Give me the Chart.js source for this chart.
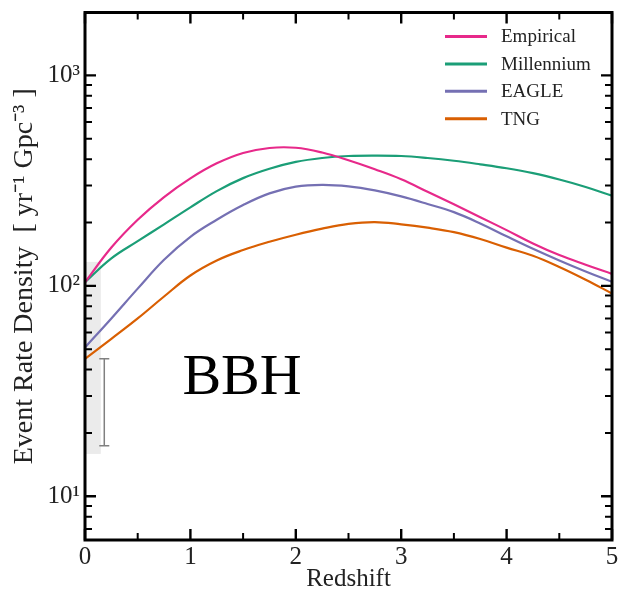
<!DOCTYPE html>
<html>
<head>
<meta charset="utf-8">
<script src="https://cdn.jsdelivr.net/npm/chart.js@4.4.1/dist/chart.umd.min.js"></script>
<style>
html, body { margin: 0; padding: 0; background: #fff; }
#caixa { width: 620px; height: 593px; }
</style>
</head>
<body>
<div id="caixa"><canvas id="taxa"></canvas></div>
<script>
// redshift grid and rates (yr^-1 Gpc^-3)
const redshift   = [0, 0.25, 0.5, 0.75, 1, 1.25, 1.5, 1.75, 2, 2.25, 2.5, 2.75, 3, 3.25, 3.5, 3.75, 4, 4.25, 4.5, 4.75, 5];
const empirical  = [104, 152, 206, 264, 324, 382, 428, 452, 453, 430, 395, 358, 321, 280, 244, 212, 184, 159, 140, 126, 114];
const millennium = [104, 135, 163, 196, 236, 282, 325, 360, 388, 405, 414, 416, 414, 405, 393, 378, 362, 343, 320, 295, 268];
const eagle      = [51, 70, 97, 133, 171, 206, 242, 275, 296, 302, 297, 284, 266, 245, 224, 198, 172, 150, 132, 117, 104.5];
const tng        = [45, 56, 70, 89, 112, 132, 148, 162, 175, 187, 197, 201, 196, 189, 180, 167, 152, 139, 123, 107, 92];

const nomes = ['Empirical', 'Millennium', 'EAGLE', 'TNG'];
const cores = ['#e7298a', '#1b9e77', '#7570b3', '#d95f02'];

// axis ticks
const xTicks = [0, 1, 2, 3, 4, 5];
const yTicks = [10, 100, 1000];
const yLabels = ['10\u00b9', '10\u00b2', '10\u00b3'];

// local-rate band and error bar at z ~ 0
const faixaZ = [0, 0.15];
const faixaTaxa = [15.9, 130];
const barraZ = 0.183;
const barraTaxa = [17.4, 45.1];

const fonte = "'Liberation Serif', 'Times New Roman', serif";

function pares(ys) {
    let out = [];
    for (let i = 0; i < redshift.length; i++) {
        out.push({ x: redshift[i], y: ys[i] });
    }
    return out;
}

const series = [empirical, millennium, eagle, tng];
let datasets = [];
for (let i = 0; i < series.length; i++) {
    datasets.push({
        label: nomes[i],
        data: pares(series[i]),
        borderColor: cores[i],
        backgroundColor: cores[i],
        borderWidth: 2.2,
        pointRadius: 0,
        tension: 0.4,
        fill: false
    });
}

const moldura = {
    id: 'moldura',
    beforeDatasetsDraw(chart) {
        const ctx = chart.ctx, xs = chart.scales.x, ys = chart.scales.y;
        // gray band
        let x0 = xs.getPixelForValue(faixaZ[0]), x1 = xs.getPixelForValue(faixaZ[1]);
        let y0 = ys.getPixelForValue(faixaTaxa[1]), y1 = ys.getPixelForValue(faixaTaxa[0]);
        ctx.save();
        ctx.fillStyle = '#ebebeb';
        ctx.fillRect(x0, y0, x1 - x0, y1 - y0);
        // error bar
        let bx = xs.getPixelForValue(barraZ);
        let by0 = ys.getPixelForValue(barraTaxa[0]), by1 = ys.getPixelForValue(barraTaxa[1]);
        ctx.strokeStyle = '#808080';
        ctx.lineWidth = 1.5;
        ctx.beginPath();
        ctx.moveTo(bx, by0); ctx.lineTo(bx, by1);
        ctx.moveTo(bx - 5, by0); ctx.lineTo(bx + 5, by0);
        ctx.moveTo(bx - 5, by1); ctx.lineTo(bx + 5, by1);
        ctx.stroke();
        ctx.restore();
    },
    afterDatasetsDraw(chart) {
        const ctx = chart.ctx, xs = chart.scales.x, ys = chart.scales.y;
        const a = chart.chartArea;
        ctx.save();
        ctx.strokeStyle = '#000';
        // inward ticks, all four sides
        ctx.lineCap = 'butt';
        for (let v = 0; v <= 5; v += 0.5) {
            let px = xs.getPixelForValue(v);
            let maior = Number.isInteger(v);
            let len = maior ? 11 : 7;
            ctx.lineWidth = maior ? 2.4 : 2;
            ctx.beginPath();
            ctx.moveTo(px, a.bottom); ctx.lineTo(px, a.bottom - len);
            ctx.moveTo(px, a.top); ctx.lineTo(px, a.top + len);
            ctx.stroke();
        }
        for (let k = 0; k <= 3; k++) {
            for (let m = 1; m <= 9; m++) {
                let v = m * Math.pow(10, k);
                if (v < ys.min || v > ys.max) continue;
                let py = ys.getPixelForValue(v);
                let maior = (m === 1);
                let len = maior ? 11 : 7;
                ctx.lineWidth = maior ? 2.4 : 2;
                ctx.beginPath();
                ctx.moveTo(a.left, py); ctx.lineTo(a.left + len, py);
                ctx.moveTo(a.right, py); ctx.lineTo(a.right - len, py);
                ctx.stroke();
            }
        }
        // frame
        ctx.lineWidth = 3;
        ctx.strokeRect(a.left, a.top, a.right - a.left, a.bottom - a.top);

        // BBH label
        ctx.fillStyle = '#000';
        ctx.font = '58px ' + fonte;
        ctx.textAlign = 'center';
        ctx.textBaseline = 'alphabetic';
        ctx.fillText('BBH', xs.getPixelForValue(1.49), ys.getPixelForValue(30.6));

        // legend
        ctx.font = '19px ' + fonte;
        ctx.textAlign = 'left';
        ctx.textBaseline = 'middle';
        for (let i = 0; i < nomes.length; i++) {
            let ly = a.top + 24 + i * 27.4;
            ctx.strokeStyle = cores[i];
            ctx.lineWidth = 3;
            ctx.beginPath();
            ctx.moveTo(a.right - 167, ly); ctx.lineTo(a.right - 125, ly);
            ctx.stroke();
            ctx.fillStyle = '#222';
            ctx.fillText(nomes[i], a.right - 111, ly + 1);
        }
        ctx.restore();
    }
};

var ctx = document.getElementById('taxa');
var grafico = new Chart(ctx, {
    type: 'line',
    data: { datasets: datasets },
    plugins: [moldura],
    options: {
        responsive: true,
        maintainAspectRatio: false,
        animation: false,
        layout: { padding: { top: 12.5, right: 8, left: 0, bottom: 0 } },
        plugins: { legend: { display: false }, tooltip: { enabled: false } },
        scales: {
            x: {
                type: 'linear',
                min: 0,
                max: 5,
                grid: { display: false, drawTicks: false },
                border: { display: false },
                afterBuildTicks: function (s) { s.ticks = xTicks.map(v => ({ value: v })); },
                afterFit: function (s) {
                    s.height = 53;
                    s.paddingLeft = 0; s.paddingRight = 0;
                },
                ticks: {
                    color: '#222',
                    padding: 2,
                    maxRotation: 0,
                    autoSkip: false,
                    font: { family: fonte, size: 25 },
                    callback: function (v) { return String(v); }
                },
                title: {
                    display: true,
                    text: 'Redshift',
                    color: '#222',
                    font: { family: fonte, size: 25 },
                    padding: { top: 0, bottom: -1 }
                }
            },
            y: {
                type: 'logarithmic',
                min: 6.2,
                max: 1990,
                bounds: 'data',
                grid: { display: false, drawTicks: false },
                border: { display: false },
                afterBuildTicks: function (s) { s.ticks = yTicks.map(v => ({ value: v })); },
                afterFit: function (s) {
                    s.width = 85;
                    s.paddingTop = 0; s.paddingBottom = 0;
                },
                ticks: {
                    color: '#222',
                    padding: 5,
                    autoSkip: false,
                    font: { family: fonte, size: 25 },
                    callback: function (v) {
                        let i = yTicks.indexOf(v);
                        return i >= 0 ? yLabels[i] : '';
                    }
                },
                title: {
                    display: true,
                    text: 'Event Rate Density  [ yr\u207b\u00b9 Gpc\u207b\u00b3 ]',
                    color: '#222',
                    font: { family: fonte, size: 28 },
                    padding: { top: 8, bottom: 0 }
                }
            }
        }
    }
});
</script>
</body>
</html>
